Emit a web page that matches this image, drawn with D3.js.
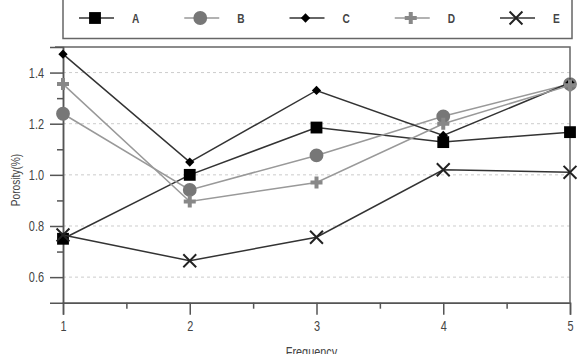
<!DOCTYPE html>
<html>
<head>
<meta charset="utf-8">
<script src="https://cdn.jsdelivr.net/npm/d3@7"></script>
<style>
  body { margin: 0; background: #fff; }
  svg { display: block; font-family: "Liberation Sans", Arial, sans-serif; }
</style>
</head>
<body>
<svg id="chart" width="581" height="354"></svg>
<script>
// dati
var frequency = [1, 2, 3, 4, 5];
var serieA = [0.75, 1.00, 1.185, 1.128, 1.167];
var serieB = [1.239, 0.941, 1.076, 1.229, 1.355];
var serieC = [1.472, 1.05, 1.33, 1.154, 1.36];
var serieD = [1.355, 0.896, 0.97, 1.20, 1.35];
var serieE = [0.765, 0.664, 0.756, 1.02, 1.01];
var nomiSerie = ['A', 'B', 'C', 'D', 'E'];
var yTicks = [0.6, 0.8, 1.0, 1.2, 1.4];

var svg = d3.select('#chart');
// margini dell'area del grafico ("top" è riservato in window, quindi pTop)
var pLeft = 63, pRight = 570, pTop = 47, pBottom = 302.7;
var stretto = 0.78; // il font originale è "narrow", lo stringo in orizzontale

var x = d3.scaleLinear().domain([1, 5]).range([pLeft, pRight]);
var y = d3.scaleLinear().domain([0.5, 1.5]).range([pBottom, pTop]);

// stile per ogni serie
var stili = {
  A: { line: '#333', fill: '#000', sym: d3.symbolSquare, size: 140 },
  B: { line: '#999', fill: '#777', sym: d3.symbolCircle, size: 150 },
  C: { line: '#333', fill: '#000', sym: d3.symbolDiamond2, size: 55 },
  D: { line: '#999', fill: '#888', sym: d3.symbolCross, size: 80 },
  E: { line: '#333', fill: '#222', sym: d3.symbolX, size: 110 }
};
var valori = { A: serieA, B: serieB, C: serieC, D: serieD, E: serieE };

// griglia tratteggiata
svg.append('g').selectAll('line').data(yTicks).enter().append('line')
  .attr('x1', pLeft).attr('x2', pRight)
  .attr('y1', function (d) { return y(d); }).attr('y2', function (d) { return y(d); })
  .attr('stroke', '#ccc').attr('stroke-width', 1).attr('stroke-dasharray', '3,3');

// cornice sopra e a destra
svg.append('path')
  .attr('d', 'M' + (pLeft - 8) + ' ' + pTop + ' L' + pRight + ' ' + pTop + ' L' + pRight + ' ' + pBottom)
  .attr('fill', 'none').attr('stroke', '#666').attr('stroke-width', 1.5);

// asse x
var gx = svg.append('g').attr('transform', 'translate(0,' + pBottom + ')')
  .call(d3.axisBottom(x).tickValues(frequency).tickFormat(d3.format('d')).tickSize(12).tickPadding(6));
svg.append('g').attr('transform', 'translate(0,' + pBottom + ')')
  .call(d3.axisBottom(x).tickValues([1.5, 2.5, 3.5, 4.5]).tickFormat('').tickSize(6).tickSizeOuter(0));

// asse y
var gy = svg.append('g').attr('transform', 'translate(' + pLeft + ',0)')
  .call(d3.axisLeft(y).tickValues(yTicks).tickFormat(d3.format('.1f')).tickSize(13).tickPadding(6));
svg.append('g').attr('transform', 'translate(' + pLeft + ',0)')
  .call(d3.axisLeft(y).tickValues([0.7, 0.9, 1.1, 1.3]).tickFormat('').tickSize(6).tickSizeOuter(0));

svg.selectAll('.domain').attr('stroke', '#555').attr('stroke-width', 1.5);
svg.selectAll('.tick line').attr('stroke', '#555').attr('stroke-width', 1.5);
svg.selectAll('.tick text').attr('fill', '#444').style('font-size', '14px');
gx.selectAll('.tick text').attr('transform', 'scale(' + stretto + ',1)');
gy.selectAll('.tick text')
  .attr('x', -19 / stretto)
  .attr('transform', 'scale(' + stretto + ',1)');

// etichette assi
svg.append('text').attr('transform', 'translate(' + ((pLeft + pRight) / 2 - 5) + ',357) scale(' + stretto + ',1)')
  .attr('text-anchor', 'middle').attr('fill', '#444').style('font-size', '14px')
  .text('Frequency');
svg.append('text').attr('transform', 'translate(20,180) rotate(-90) scale(' + stretto + ',1)')
  .attr('text-anchor', 'middle').attr('fill', '#444').style('font-size', '13px')
  .text('Porosity(%)');

// linee e simboli
var linea = d3.line()
  .x(function (d, i) { return x(frequency[i]); })
  .y(function (d) { return y(d); });

nomiSerie.forEach(function (nome) {
  var st = stili[nome];
  var g = svg.append('g');
  g.append('path').attr('d', linea(valori[nome]))
    .attr('fill', 'none').attr('stroke', st.line).attr('stroke-width', 1.5);
  g.selectAll('path.pt').data(valori[nome]).enter().append('path')
    .attr('class', 'pt')
    .attr('transform', function (d, i) { return 'translate(' + x(frequency[i]) + ',' + y(d) + ')'; })
    .attr('d', d3.symbol().type(st.sym).size(st.size))
    .attr('fill', st.fill)
    .attr('stroke', nome == 'E' ? st.fill : 'none')
    .attr('stroke-width', nome == 'E' ? 2 : 0);
});

// legenda
svg.append('rect').attr('x', 63).attr('y', -5).attr('width', 509).attr('height', 43.5)
  .attr('fill', 'none').attr('stroke', '#666').attr('stroke-width', 1.5);
var legX = d3.scalePoint().domain(nomiSerie).range([95, 516]);
nomiSerie.forEach(function (nome) {
  var st = stili[nome];
  var cx = legX(nome), cy = 18;
  svg.append('line').attr('x1', cx - 16).attr('x2', cx + 19).attr('y1', cy).attr('y2', cy)
    .attr('stroke', st.line).attr('stroke-width', 1.5);
  svg.append('path').attr('transform', 'translate(' + cx + ',' + cy + ')')
    .attr('d', d3.symbol().type(st.sym).size(st.size))
    .attr('fill', st.fill)
    .attr('stroke', nome == 'E' ? st.fill : 'none')
    .attr('stroke-width', nome == 'E' ? 2 : 0);
  svg.append('text').attr('transform', 'translate(' + (cx + 37) + ',' + (cy + 5) + ') scale(' + stretto + ',1)')
    .attr('fill', '#444').style('font-size', '13px').style('font-weight', 'bold')
    .text(nome);
});
</script>
</body>
</html>
